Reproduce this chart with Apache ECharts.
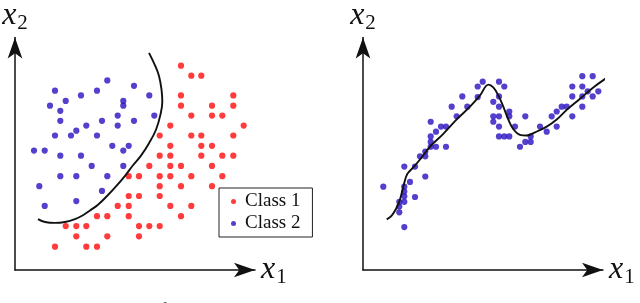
<!DOCTYPE html>
<html><head><meta charset="utf-8">
<script src="https://cdn.jsdelivr.net/npm/echarts@6/dist/echarts.min.js"></script>
<style>html,body{margin:0;padding:0;background:#fff}#c{width:640px;height:303px}</style>
</head><body><div id="c"></div>
<script>
// ---- data (axis units: left panel and right panel each 0..240 x 0..242) ----
const seriesNames = ['Class 1', 'Class 2'];
const captions = ['(a) Classification', '(b) Regression'];
const axisNames = { x1: '{v|x}{s|1}', x2: '{v|x}{s|2}' };

const class1 = [
  [166,212.7],[176.3,202.3],[186.3,202.3],[166,181.7],[218.3,181.7],[166,171],[197,171],[218.3,171],
  [176.3,160.7],[197,160.7],[207.3,160.7],[155.3,150.3],[228.7,150.3],[144.7,140],[176.3,140],[186.3,140],
  [218.3,140],[155.3,129.3],[186.3,129.3],[197,129.3],[144.7,119],[155.3,119],[186.3,119],[207.3,119],
  [218.3,119],[134.3,108.3],[155.3,108.3],[166,108.3],[197,108.3],[113.7,97.7],[124,97.7],[144.7,97.7],
  [155.3,97.7],[176.3,97.7],[207.3,97.7],[144.7,87.3],[166,87.3],[197,87.3],[113.7,77],[124,77],
  [144.7,77],[102.7,66.7],[113.7,66.7],[155.3,66.7],[176.3,66.7],[82,56],[92.3,56],[113.7,56],
  [166,56],[50.7,45.7],[61.3,45.7],[71.3,45.7],[124,45.7],[134.3,45.7],[144.7,45.7],[61.3,35],
  [92.3,35],[124,35],[40,24.3],[71.3,24.3],[82,24.3]
];
const class2 = [
  [92.3,197.3],[119,191.7],[40,186.7],[82,186.7],[134.3,181.7],[66,181.7],[50.7,176],[108.3,176],
  [35,171],[108.3,171],[45.3,165.7],[102.7,160.7],[139.3,160.7],[45.3,155.3],[87,155.3],[119,155.3],
  [71.3,150.3],[102.7,150.3],[61.3,145],[40,140],[56,140],[82,140],[97.3,129.3],[113.7,129.3],
  [19,124.3],[29.7,124.3],[108.3,124.3],[45.3,119],[66,119],[76.7,108.3],[108.3,108.3],[45.3,97.7],
  [61.3,97.7],[92.3,97.7],[24.3,87.3],[87,82.3],[29.7,66.7],[61.3,71.7]
];
const boundary = [
  [134,226],[140,213],[144,202],[146.5,188],[147.3,175],[145.5,162],[141,146],[134,132],[126,119],
  [118,109],[110,98],[101,87],[92,77],[83,68],[75,62],[68,57],[60,53],[50,50],[40,49],[30,50],[23,53]
];
const regressionPoints = [
  [20.3,86.7],[41.3,107.7],[52,107.7],[47,91.7],[41.3,86.7],[41.3,81.7],[41.3,76.7],[36.3,71],[41.3,71],
  [36.3,66],[36.3,60],[52,76],[41.3,44.7],[62.3,97.3],[57,118.3],[62.3,118.3],[62.3,123.3],[67.7,128.3],
  [73,128.3],[83,128.3],[67.7,133.3],[67.7,139],[73,144],[78,149.3],[83,149.3],[67.7,154.3],[93.7,160],
  [88.7,170],[104.3,170],[99.3,180.7],[114.7,191],[119.7,196],[136,196],[141.3,191],[114.7,180],
  [130.3,175],[136,180.7],[136,170],[130.3,160],[136,160],[130.3,154.3],[136,149.3],[146.3,165],
  [146.3,160],[152,149.3],[136,139],[141.3,139],[146.3,139],[162.3,160],[157,128.3],[162.3,133.3],
  [167.7,133.3],[167.7,139],[177,149.3],[183.7,144],[188.7,160],[193.7,165],[193.7,149.3],[198.7,170],
  [203.7,170],[209.3,191],[209.3,180.7],[209.3,160],[219.3,201.7],[219.3,191],[219.3,180.7],[219.3,170],
  [229.7,201.7],[229.7,180.7],[224.7,186],[235.3,186],[240.3,191]
];
const regressionCurve = [
  [23.7,52.7],[28.7,56.7],[33.7,65],[37,73.3],[40.3,86.7],[44.3,100],[50.3,106.7],[57,115],[67,128.3],
  [80.3,141.7],[93.7,156.7],[107,170],[117,181.7],[125.5,193],[130.3,190],[135.3,181.7],[140.3,170],
  [145.3,156.7],[150.3,146.7],[157,140.7],[163.7,140],[172,143.3],[183.7,149.3],[193.7,156.7],
  [203.7,166.7],[217,178.3],[230.3,190],[243.7,200],[253.7,206.7],[262,209.3]
];

// ---- styling ----
const INK = '#111';
const RED = '#ff0a0a';
const BLUE = '#2810c0';
const SERIF = 'Liberation Serif';
const DOT = 6.2;
const nameRich = {
  v: { fontFamily: SERIF, fontStyle: 'italic', fontSize: 32, color: INK },
  s: { fontFamily: SERIF, fontSize: 21, color: INK, padding: [14, 0, 0, 1] }
};
function axisLine() {
  return { show: true, onZero: false, lineStyle: { color: INK, width: 1.5 }, symbol: ['none', 'arrow'], symbolSize: [11, 21] };
}
function xAx(i) {
  return { gridIndex: i, type: 'value', min: 0, max: 240, axisLine: axisLine(), axisTick: { show: false },
    axisLabel: { show: false }, splitLine: { show: false }, name: axisNames.x1, nameLocation: 'end', nameGap: 6,
    nameTextStyle: { rich: nameRich } };
}
function yAx(i) {
  return { gridIndex: i, type: 'value', min: 0, max: 242, axisLine: axisLine(), axisTick: { show: false },
    axisLabel: { show: false }, splitLine: { show: false }, name: axisNames.x2, nameLocation: 'end', nameGap: 4,
    nameTextStyle: { rich: nameRich } };
}

const chart = echarts.init(document.getElementById('c'), null, { renderer: 'canvas' });
chart.setOption({
  animation: false,
  backgroundColor: '#fff',
  title: [
    { text: captions[0], left: 92, top: 302, padding: 0, textStyle: { fontFamily: SERIF, fontSize: 18, fontWeight: 'normal', color: INK } },
    { text: captions[1], left: 433, top: 302, padding: 0, textStyle: { fontFamily: SERIF, fontSize: 18, fontWeight: 'normal', color: INK } }
  ],
  grid: [
    { left: 15, top: 28, width: 240, height: 242 },
    { left: 363, top: 28, width: 240, height: 242 }
  ],
  xAxis: [xAx(0), xAx(1)],
  yAxis: [yAx(0), yAx(1)],
  legend: {
    data: seriesNames, left: 219, top: 188, orient: 'vertical', icon: 'circle', itemWidth: 5, itemHeight: 5,
    itemGap: 3, padding: [4, 12, 4, 12], borderColor: '#222', borderWidth: 1, borderRadius: 0,
    textStyle: { fontFamily: SERIF, fontSize: 19, color: INK, padding: [0, 0, 0, 4] }
  },
  series: [
    { name: seriesNames[0], type: 'scatter', xAxisIndex: 0, yAxisIndex: 0, data: class1, symbolSize: DOT, itemStyle: { color: RED } },
    { name: seriesNames[1], type: 'scatter', xAxisIndex: 0, yAxisIndex: 0, data: class2, symbolSize: DOT, itemStyle: { color: BLUE } },
    { name: 'boundary', type: 'line', xAxisIndex: 0, yAxisIndex: 0, data: boundary, smooth: 0.4, symbol: 'none', clip: false,
      lineStyle: { color: INK, width: 1.9 }, z: 3 },
    { name: 'samples', type: 'scatter', xAxisIndex: 1, yAxisIndex: 1, data: regressionPoints, symbolSize: DOT, itemStyle: { color: BLUE } },
    { name: 'fit', type: 'line', xAxisIndex: 1, yAxisIndex: 1, data: regressionCurve, smooth: 0.4, symbol: 'none', clip: false,
      lineStyle: { color: INK, width: 1.9 }, z: 3 }
  ]
});
</script>
</body></html>
